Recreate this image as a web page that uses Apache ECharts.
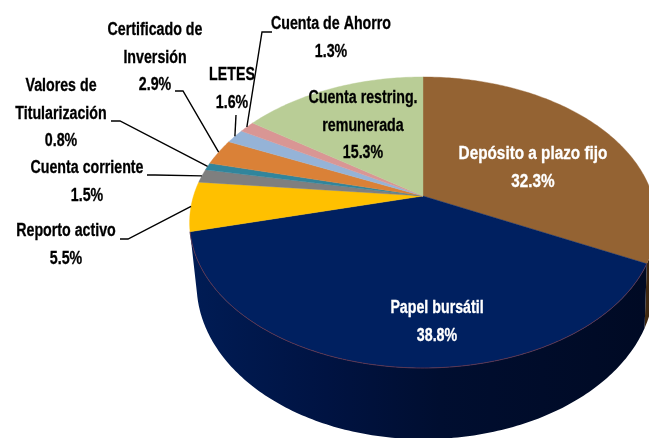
<!DOCTYPE html>
<html><head><meta charset="utf-8">
<style>html,body{margin:0;padding:0;background:#fff}#c{width:649px;height:438px}</style>
<script src="https://cdn.jsdelivr.net/npm/echarts@6/dist/echarts.min.js"></script>
</head><body><div id="c"></div>
<script>
const categories = ['Depósito a plazo fijo','Papel bursátil','Reporto activo','Cuenta corriente','Valores de\nTitularización','Certificado de\nInversión','LETES','Cuenta de Ahorro','Cuenta restring.\nremunerada'];
const values = [32.3,38.8,5.5,1.5,0.8,2.9,1.6,1.3,15.3];
const colors = ['#946333','#002060','#FFC000','#7F7F7F','#31859C','#DA8137','#95B3D7','#D99694','#B9CD96'];

// label centre positions and leader elbows, by category index
const labelPos = [[533,168],[437,322],[66,245],[87,182],[61,114],[155,58],[232,89],[331,38],[363,126]];
const labelColor = ['#fff','#fff','#000','#000','#000','#000','#000','#000','#000'];
const labelStretch = [0.85,0.79,0.79,0.79,0.79,0.79,0.79,0.79,0.79];
const leaders = {2:[[120,239],[128,239]],3:[[147,175],[155,175]],4:[[111,121],[120,121]],5:[[175,91],[183,91]],6:[[236,115],[236,115]],7:[[272,32],[262,32]]};

// projected disc of the 3D pie
const AX=423, AY=196, BX=229.5, BY=140.7, K=0.182, DEPTH=60, SHRINK_L=0.97, SHRINK_R=0.99, SY=1.065;
const TAU=Math.PI*2;
const total=values.reduce((a,b)=>a+b,0);
const starts=[]; values.reduce((a,v,i)=>{starts[i]=a/total*TAU;return a+v;},0);
function rim(t){const u=Math.sin(t),v=-Math.cos(t),d=1-K*v;return [AX+BX*u/d,AY+BY*v/d];}
function low(t){const p=rim(t),dx=p[0]-AX;return [AX+dx*(dx<0?SHRINK_L:SHRINK_R),AY+DEPTH+(p[1]-AY)*SY];}
function arc(a,b,f){const n=Math.max(2,Math.ceil((b-a)/0.015)),o=[];for(let i=0;i<=n;i++)o.push(f(a+(b-a)*i/n));return o;}

const sideFill=[
  '#3f2810',
  {type:'linear',x:190,y:0,x2:645,y2:0,global:true,colorStops:[{offset:0,color:'#001c55'},{offset:0.3,color:'#001342'},{offset:0.55,color:'#000e30'},{offset:1,color:'#000a24'}]}
];
function side(p,api){
  const i=api.value(1);
  if(i>1) return null;
  const a=starts[i], b=a+values[i]/total*TAU;
  const from=Math.max(a,Math.PI/2.05);
  const top=arc(from,b,rim), bot=arc(from,b,low).reverse();
  return {type:'group',children:[{type:'polygon',shape:{points:top.concat(bot)},style:{fill:sideFill[i],stroke:null}}]};
}
function face(p,api){
  const i=api.value(1);
  const a=starts[i], b=a+values[i]/total*TAU;
  const pts=[[AX,AY]].concat(arc(a,b,rim));
  const kids=[{type:'polygon',shape:{points:pts},style:{fill:colors[i],stroke:colors[i],lineWidth:0.4}}];
  if(i===1) kids.push({type:'polyline',shape:{points:arc(a,b,rim)},style:{fill:null,stroke:'#6a3448',lineWidth:0.8}});
  return {type:'group',children:kids};
}
function note(p,api){
  const i=api.value(1);
  const kids=[];
  if(leaders[i]){
    const m=starts[i]+values[i]/total*TAU/2;
    kids.push({type:'polyline',shape:{points:leaders[i].concat([rim(m)])},style:{fill:null,stroke:'#000',lineWidth:1.4}});
  }
  const lp=labelPos[i];
  kids.push({type:'text',x:lp[0],y:lp[1],scaleX:labelStretch[i],style:{text:categories[i]+'\n'+values[i].toFixed(1)+'%',x:0,y:0,align:'center',verticalAlign:'middle',fontFamily:'Liberation Sans',fontWeight:'bold',fontSize:18,lineHeight:27.5,fill:labelColor[i],stroke:labelColor[i],lineWidth:0.3}});
  return {type:'group',children:kids};
}
const rows=values.map((v,i)=>[v,i]);
const chart=echarts.init(document.getElementById('c'),null,{renderer:'canvas'});
chart.setOption({
  animation:false,
  backgroundColor:'#fff',
  series:[
    {type:'custom',coordinateSystem:'none',renderItem:side,data:rows,z:1,silent:true},
    {type:'custom',coordinateSystem:'none',renderItem:face,data:rows,z:2,silent:true},
    {type:'custom',coordinateSystem:'none',renderItem:note,data:rows,z:3,silent:true}
  ]
});
</script></body></html>
